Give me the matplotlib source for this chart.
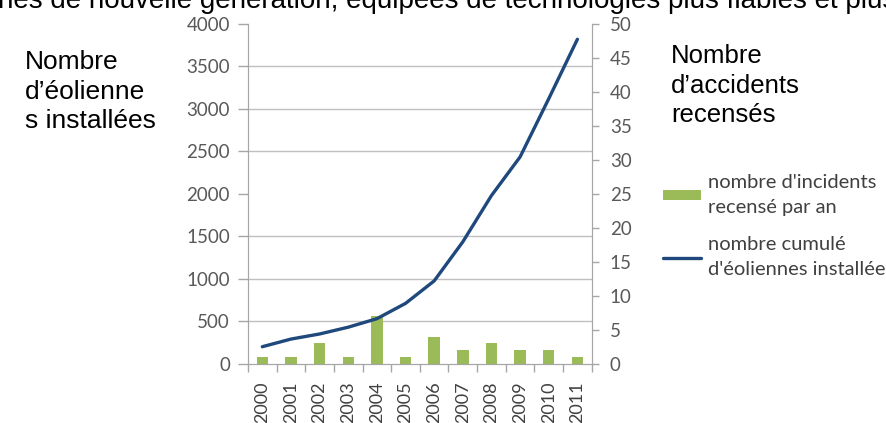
import matplotlib
matplotlib.use("Agg")
import matplotlib.pyplot as plt
from matplotlib.ticker import MultipleLocator, FixedLocator
import numpy as np

years = ["2000", "2001", "2002", "2003", "2004", "2005",
         "2006", "2007", "2008", "2009", "2010", "2011"]
incidents = [1, 1, 3, 1, 7, 1, 4, 2, 3, 2, 2, 1]
cumul_eoliennes = [200, 290, 350, 430, 530, 710, 975, 1435, 1980, 2435, 3120, 3820]

label_bars = "nombre d'incidents\nrecensé par an"
label_line = "nombre cumulé\nd'éoliennes installées"
left_title = "Nombre\nd’éolienne\ns installées"
right_title = "Nombre\nd’accidents\nrecensés"
top_text = "nes de nouvelle génération, équipées de technologies plus fiables et plus sûres"

W, H = 887, 423
fig = plt.figure(figsize=(W / 100, H / 100), dpi=100)
fig.patch.set_facecolor("white")

left, right, bottom, top = 248 / W, 591.7 / W, 1 - 363.7 / H, 1 - 24 / H
ax2 = fig.add_axes([left, bottom, right - left, top - bottom])  # bars, right axis
ax = ax2.twinx()  # line, left axis
ax.yaxis.tick_left()
ax.yaxis.set_label_position("left")
ax2.yaxis.tick_right()

x = np.arange(len(years))
grid_c = "#BFBFBF"
tick_c = "#A6A6A6"
lab_c = "#595959"
tick_font = "Lato"

# bars (right axis)
bars = ax2.bar(x, incidents, width=0.4, color="#9BBB59", zorder=2)
ax2.set_ylim(0, 50)
ax2.set_xlim(-0.5, len(years) - 0.5)
ax2.yaxis.set_major_locator(MultipleLocator(5))
ax2.yaxis.set_minor_locator(MultipleLocator(50 / 8))
ax2.grid(which="minor", axis="y", color=grid_c, linewidth=1.0)
ax2.set_axisbelow(True)
ax2.tick_params(axis="y", which="minor", length=0)
ax2.tick_params(axis="y", which="major", direction="out", length=5, width=1,
                color=tick_c, pad=8, labelsize=13.5, labelcolor=lab_c)
for t in ax2.get_yticklabels():
    t.set_fontfamily(tick_font)

# x axis in Excel style
ax2.set_xticks(x)
ax2.set_xticklabels(years, rotation=90, fontfamily=tick_font, fontsize=13, color="#404040")
ax2.xaxis.set_minor_locator(FixedLocator(np.arange(-0.5, len(years), 1.0)))
ax2.tick_params(axis="x", which="major", length=0, pad=13)
ax2.tick_params(axis="x", which="minor", direction="out", length=6, width=1, color=tick_c)

for s in ["top"]:
    ax2.spines[s].set_visible(False)
    ax.spines[s].set_visible(False)
for s in ["left", "right", "bottom"]:
    ax2.spines[s].set_color(tick_c)
    ax.spines[s].set_color(tick_c)

# line (left axis)
line, = ax.plot(x, cumul_eoliennes, color="#1F497D", linewidth=2.4,
                solid_capstyle="round", zorder=3)
ax.set_ylim(0, 4000)
ax.yaxis.set_major_locator(MultipleLocator(500))
ax.tick_params(axis="y", direction="out", length=7, width=1, color=tick_c,
               pad=6, labelsize=13.5, labelcolor=lab_c)
for t in ax.get_yticklabels():
    t.set_fontfamily(tick_font)

# legend
leg = fig.legend([bars, line], [label_bars, label_line], loc="upper left",
                 bbox_to_anchor=(663 / W, 1 - 174 / H), frameon=False,
                 prop={"family": tick_font, "size": 14.5}, labelcolor="#404040",
                 handlelength=1.9, handleheight=0.4, handletextpad=0.35,
                 labelspacing=1.0, borderaxespad=0, borderpad=0)
for t in leg.get_texts():
    t.set_linespacing(1.55)

# annotations
fig.text(25 / W, 1 - 50 / H, left_title, ha="left", va="top",
         fontfamily="Liberation Sans", fontsize=19, color="black", linespacing=1.3)
fig.text(671 / W, 1 - 44 / H, right_title, ha="left", va="top",
         fontfamily="Liberation Sans", fontsize=18.5, color="black", linespacing=1.3)
fig.text(-2 / W, 1 - 8 / H, top_text, ha="left", va="baseline",
         fontfamily="Liberation Sans", fontsize=20, color="black")

fig.savefig("out.png", dpi=100)
